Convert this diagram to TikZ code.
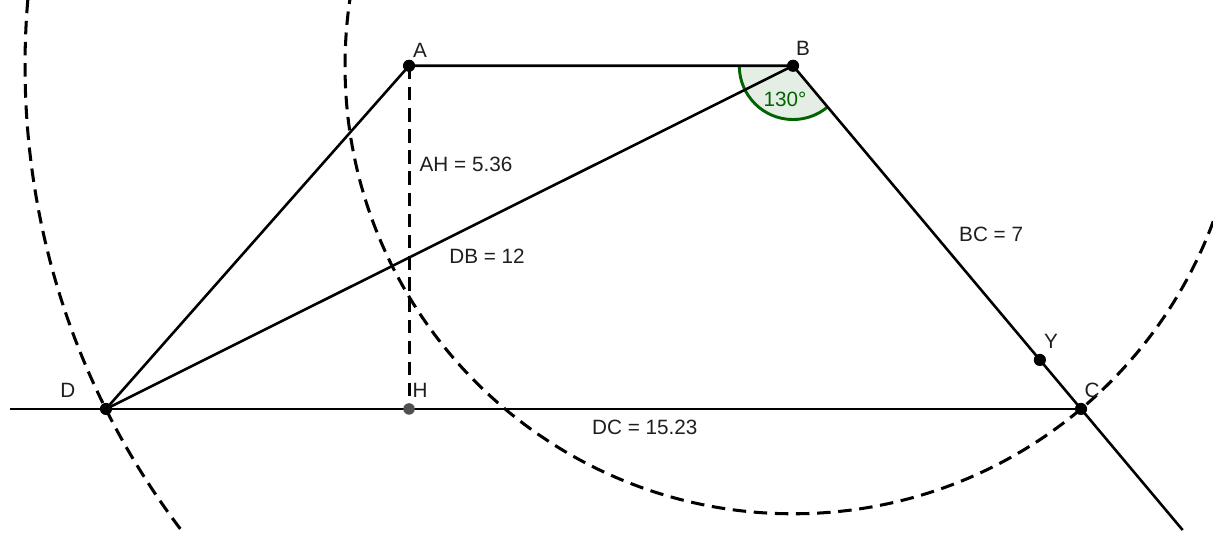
\documentclass[tikz,border=0pt]{standalone}
\usepackage{fontspec}
\setmainfont{Liberation Sans}
\usepackage{tikz}
\usetikzlibrary{calc, positioning}
\definecolor{angdark}{RGB}{0, 100, 0}
\definecolor{anglite}{RGB}{228, 238, 228}
\definecolor{txtgray}{RGB}{30, 30, 30}
\definecolor{hgray}{RGB}{80, 80, 80}

\begin{document}
\begin{tikzpicture}[x=1cm, y=1cm,
  seg/.style={line width=1.15pt, color=black},
  circ/.style={line width=1.35pt, color=black, dash pattern=on 6pt off 3.4pt},
  pt/.style={circle, fill=black, inner sep=0pt, minimum size=0.19cm},
  hpt/.style={circle, fill=hgray, inner sep=0pt, minimum size=0.18cm},
  lbl/.style={font=\fontsize{9.2pt}{11pt}\selectfont, text=txtgray, inner sep=0pt},
  anglbl/.style={font=\fontsize{9.2pt}{11pt}\selectfont, text=angdark, inner sep=0pt}
]
\useasboundingbox (-1.656,-1.9375) rectangle (17.297,6.39);
% Points of the trapezoid
\coordinate (D) at (0,0);
\coordinate (H) at (4.735,0);
\coordinate (A) at (4.735,5.362);
\coordinate (B) at (10.735,5.362);
\coordinate (C) at (15.235,0);
\coordinate (Y) at ($(B)+(-50:6)$);
\coordinate (L) at (-1.5,0);
\coordinate (E) at ($(C)+(-50:2.47)$);
% Angle at B
\fill[anglite] (B) -- ++(180:0.84) arc[start angle=180, end angle=310, radius=0.84] -- cycle;
\draw[angdark, line width=1.3pt] ($(B)+(180:0.84)$) arc[start angle=180, end angle=310, radius=0.84];
% Circles around B
\begin{scope}
  \clip (-1.656,-1.9375) rectangle (17.297,6.39);
  \draw[circ] (B) circle[radius=12];
  \draw[circ] (B) circle[radius=7];
\end{scope}
% Sides and diagonal
\draw[seg] (L) -- (C);
\draw[seg] (D) -- (A) -- (B);
\draw[seg] (D) -- (B);
\draw[seg] (B) -- (E);
\draw[circ] (A) -- (H);
% Dots
\node[pt] (pA) at (A) {};
\node[pt] (pB) at (B) {};
\node[pt] (pC) at (C) {};
\node[pt] (pD) at (D) {};
\node[pt] (pY) at (Y) {};
\node[hpt] (pH) at (H) {};
% Point names
\node[lbl] (nA) at (4.906, 5.609) {A};
\node[lbl] (nB) at (10.89, 5.64) {B};
\node[lbl] (nD) at (-0.594, 0.297) {D};
\node[lbl] (nH) at (4.906, 0.297) {H};
\node[lbl] (nC) at (15.406, 0.297) {C};
\node[lbl] (nY) at (14.766, 1.0625) {Y};
% Measures
\node[lbl] (mAH) at (5.625, 3.828) {AH = 5.36};
\node[lbl] (mDB) at (5.953, 2.39) {DB = 12};
\node[lbl] (mBC) at (13.83, 2.734) {BC = 7};
\node[lbl] (mDC) at (8.42, -0.281) {DC = 15.23};
\node[anglbl] (mB) at (10.61, 4.84) {130°};
\end{tikzpicture}
\end{document}
